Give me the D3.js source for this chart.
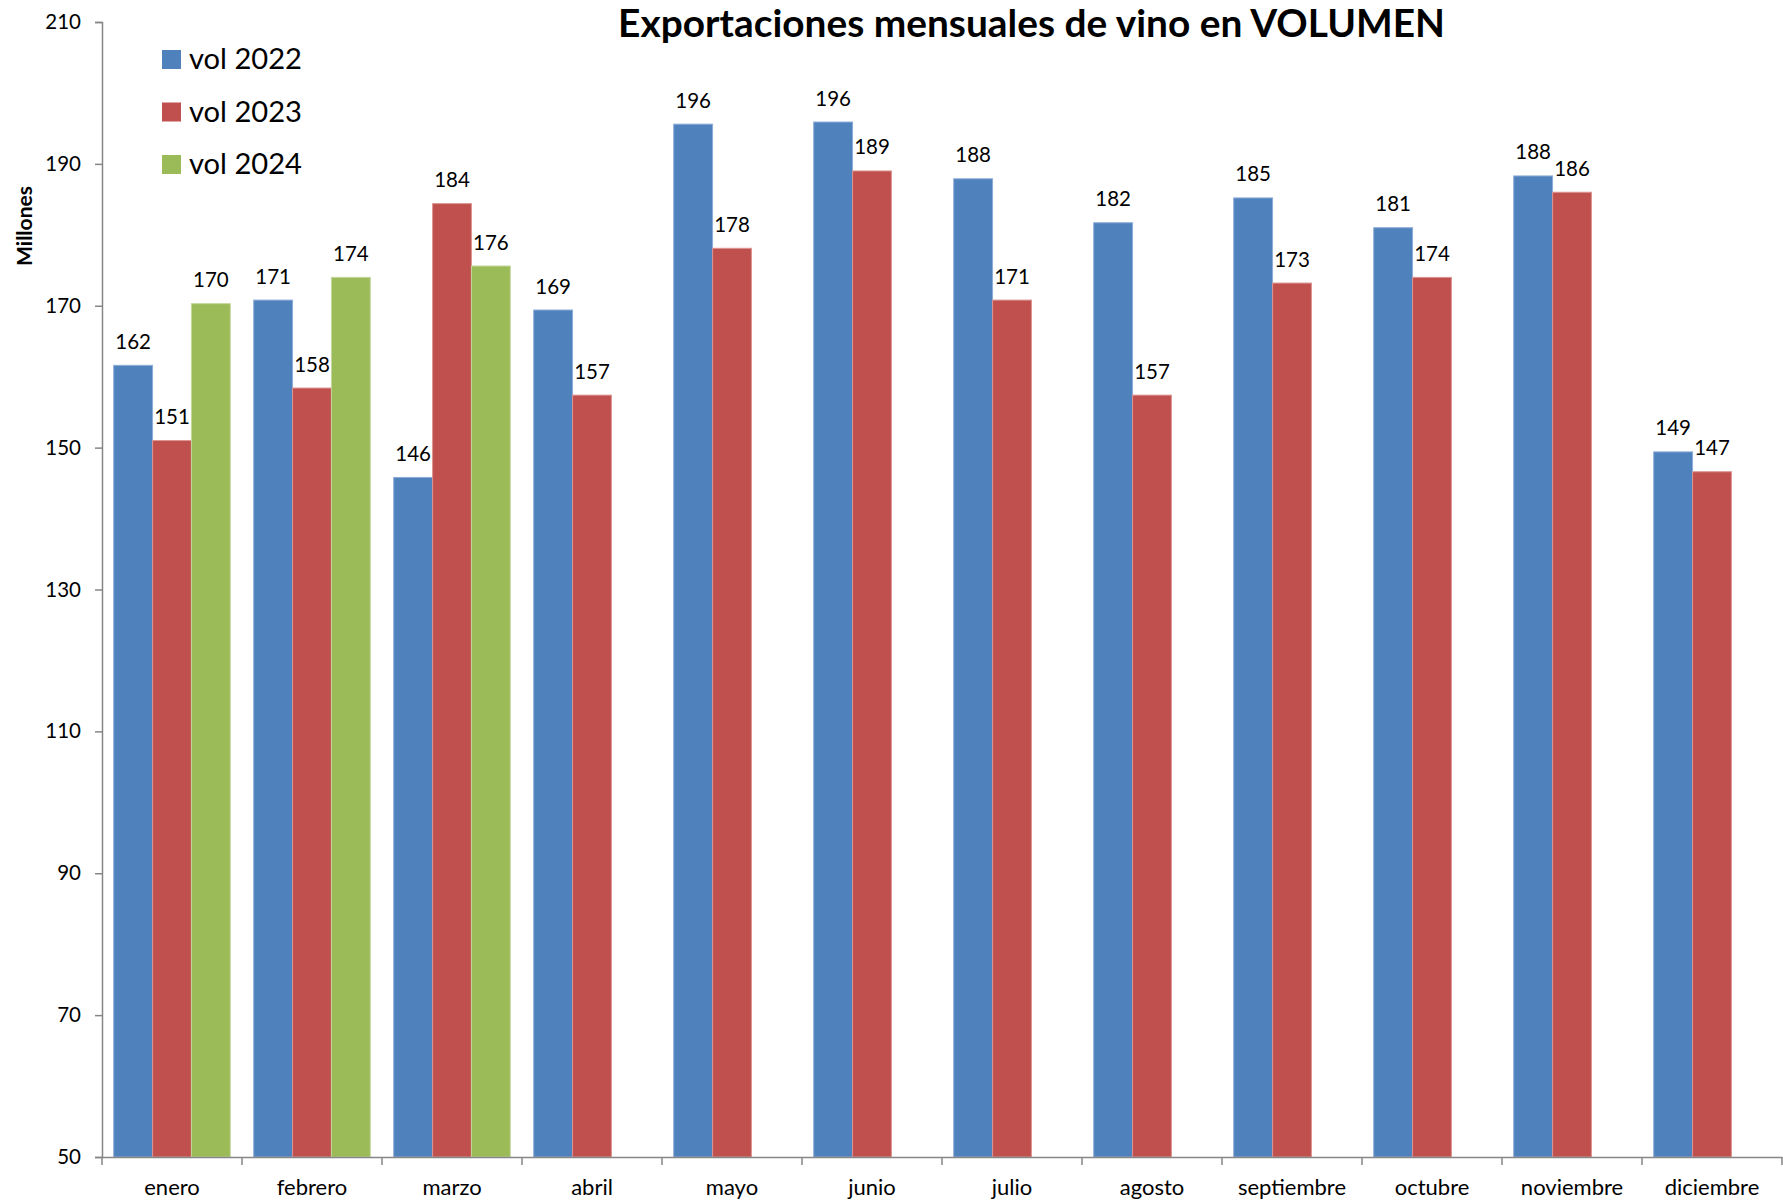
<!DOCTYPE html>
<html>
<head>
<meta charset="utf-8">
<script src="https://cdn.jsdelivr.net/npm/d3@7"></script>
<style>
  html, body { margin: 0; padding: 0; background: #fff; }
  svg { display: block; }
  text { font-family: Lato, "Open Sans", sans-serif; fill: #000; }
</style>
</head>
<body>
<svg id="chart" width="1783" height="1201"></svg>
<script>
const months = ["enero","febrero","marzo","abril","mayo","junio","julio","agosto","septiembre","octubre","noviembre","diciembre"];
const seriesNames = ["vol 2022","vol 2023","vol 2024"];
const vol2022 = [161.6,170.8,145.8,169.4,195.6,195.9,187.9,181.7,185.2,181.0,188.3,149.4];
const vol2023 = [151.0,158.4,184.4,157.4,178.1,189.0,170.8,157.4,173.2,174.0,186.0,146.6];
const vol2024 = [170.3,174.0,175.6,null,null,null,null,null,null,null,null,null];
const labels2022 = ["162","171","146","169","196","196","188","182","185","181","188","149"];
const labels2023 = ["151","158","184","157","178","189","171","157","173","174","186","147"];
const labels2024 = ["170","174","176"];
const yTicks = [50,70,90,110,130,150,170,190,210];
const colors = ["#4F81BD","#C0504D","#9BBB59"];
const strokes = ["#8EACD8","#DB9593","#C3D69B"];

(function () {
const svg = d3.select("#chart");
const mLeft = 102, mRight = 1782, mTop = 22, mBottom = 1157;

const x = d3.scaleBand().domain(months).range([mLeft, mRight]).padding(0);
const bw = x.bandwidth();
const xs = d3.scaleBand().domain(seriesNames).range([bw * 0.0836, bw * (1 - 0.0836)]).padding(0);
const y = d3.scaleLinear().domain([50, 210]).range([mBottom, mTop]);

const seriesData = [vol2022, vol2023, vol2024];
const seriesLabels = [labels2022, labels2023, labels2024];

seriesData.forEach((vals, si) => {
  const g = svg.append("g");
  const data = months.map((m, i) => ({m, v: vals[i], lab: seriesLabels[si][i]})).filter(d => d.v != null);
  g.selectAll("rect").data(data).enter().append("rect")
    .attr("x", d => x(d.m) + xs(seriesNames[si]))
    .attr("y", d => y(d.v))
    .attr("width", xs.bandwidth())
    .attr("height", d => y(50) - y(d.v))
    .attr("fill", colors[si])
    .attr("stroke", strokes[si])
    .attr("stroke-width", 1);
  g.selectAll("text").data(data).enter().append("text")
    .attr("x", d => x(d.m) + xs(seriesNames[si]) + xs.bandwidth() / 2)
    .attr("y", d => y(d.v) - 16.5)
    .attr("text-anchor", "middle")
    .style("font-size", "20.5px")
    .text(d => d.lab);
});

const yAxis = d3.axisLeft(y).tickValues(yTicks).tickSize(7).tickPadding(14).tickFormat(d3.format("d"));
const gy = svg.append("g").attr("transform", `translate(${mLeft},0)`).call(yAxis);
gy.select(".domain").attr("stroke", "#868686").attr("stroke-width", 1.5);
gy.selectAll(".tick line").attr("stroke", "#868686").attr("stroke-width", 1.5);
gy.selectAll(".tick text").style("font-size", "20.5px").style("font-family", "Lato").attr("fill", "#000");

const xAxis = d3.axisBottom(x).tickSize(0).tickPadding(0);
const gx = svg.append("g").attr("transform", `translate(0,${mBottom})`).call(xAxis);
gx.select(".domain").attr("stroke", "#868686").attr("stroke-width", 1.5);
gx.selectAll(".tick text").attr("y", 38).attr("dy", 0).style("font-size", "22px").style("font-family", "Lato").attr("fill", "#000");
const bounds = months.map(m => x(m)).concat([mRight]);
gx.selectAll(".bound").data(bounds).enter().append("line")
  .attr("x1", d => d).attr("x2", d => d).attr("y1", 0).attr("y2", 8)
  .attr("stroke", "#868686").attr("stroke-width", 1.5);

svg.append("text")
  .attr("transform", "translate(32,226) rotate(-90)")
  .attr("text-anchor", "middle")
  .style("font-size", "21px").style("font-weight", "700")
  .text("Millones");

const title = svg.append("text")
  .attr("x", 1031.5).attr("y", 37)
  .attr("text-anchor", "middle")
  .style("font-size", "32px").style("font-weight", "700")
  .text("Exportaciones mensuales de vino en VOLUMEN");
const tw = title.node().getComputedTextLength();
title.style("font-size", (32 * 827 / tw).toFixed(2) + "px");

const lg = svg.append("g");
seriesNames.forEach((s, i) => {
  const yy = 50 + i * 52.5;
  lg.append("rect").attr("x", 162).attr("y", yy).attr("width", 19).attr("height", 19).attr("fill", colors[i]);
  const t = lg.append("text").attr("x", 189).attr("y", yy + 19).style("font-size", "26px").text(s);
  const l = t.node().getComputedTextLength();
  t.style("font-size", (26 * 113 / l).toFixed(2) + "px");
});
})();
</script>
</body>
</html>
